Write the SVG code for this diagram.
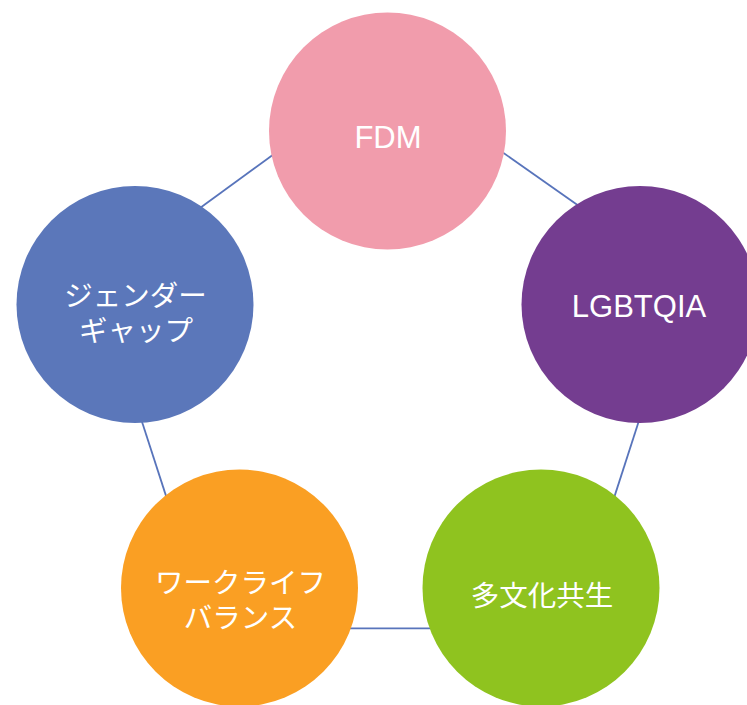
<svg xmlns="http://www.w3.org/2000/svg" width="747" height="705" viewBox="0 0 747 705">
<style>
.conn{stroke:#5874bb;stroke-width:1.8;fill:none}
.lbl{fill:#ffffff;font-family:"Liberation Sans","Noto Sans CJK JP",sans-serif;font-size:31px;text-anchor:middle}
.jp{fill:#ffffff;font-family:"Liberation Sans","Noto Sans CJK JP",sans-serif;font-size:28.5px;text-anchor:middle}
</style>
<rect width="747" height="705" fill="#ffffff"/>
<g id="connectors">
<line class="conn" x1="278.2" y1="151" x2="195.2" y2="211.4"/>
<line class="conn" x1="497.5" y1="148.7" x2="582.5" y2="208.6"/>
<line class="conn" x1="139.8" y1="415" x2="168.2" y2="502.6"/>
<line class="conn" x1="640.8" y1="415" x2="612.5" y2="502.6"/>
<line class="conn" x1="345" y1="628.3" x2="435" y2="628.3"/>
</g>
<g id="node-fdm">
<circle cx="387.5" cy="131" r="118.5" fill="#f19cac"/>
<text class="lbl" x="388" y="148">FDM</text>
</g>
<g id="node-lgbtqia">
<circle cx="640" cy="304.5" r="118.5" fill="#743d90"/>
<text class="lbl" x="639" y="317">LGBTQIA</text>
</g>
<g id="node-tabunka">
<circle cx="541" cy="588" r="118.5" fill="#8fc31f"/>
<text class="jp" x="542" y="606">多文化共生</text>
</g>
<g id="node-wlb">
<circle cx="239.5" cy="588" r="118.5" fill="#fa9f23"/>
<text class="jp"><tspan x="240.5" y="593">ワークライフ</tspan><tspan x="240.5" y="628">バランス</tspan></text>
</g>
<g id="node-gender">
<circle cx="135" cy="304.5" r="118.5" fill="#5b77ba"/>
<text class="jp"><tspan x="135.5" y="306">ジェンダー</tspan><tspan x="136" y="341">ギャップ</tspan></text>
</g>
</svg>
